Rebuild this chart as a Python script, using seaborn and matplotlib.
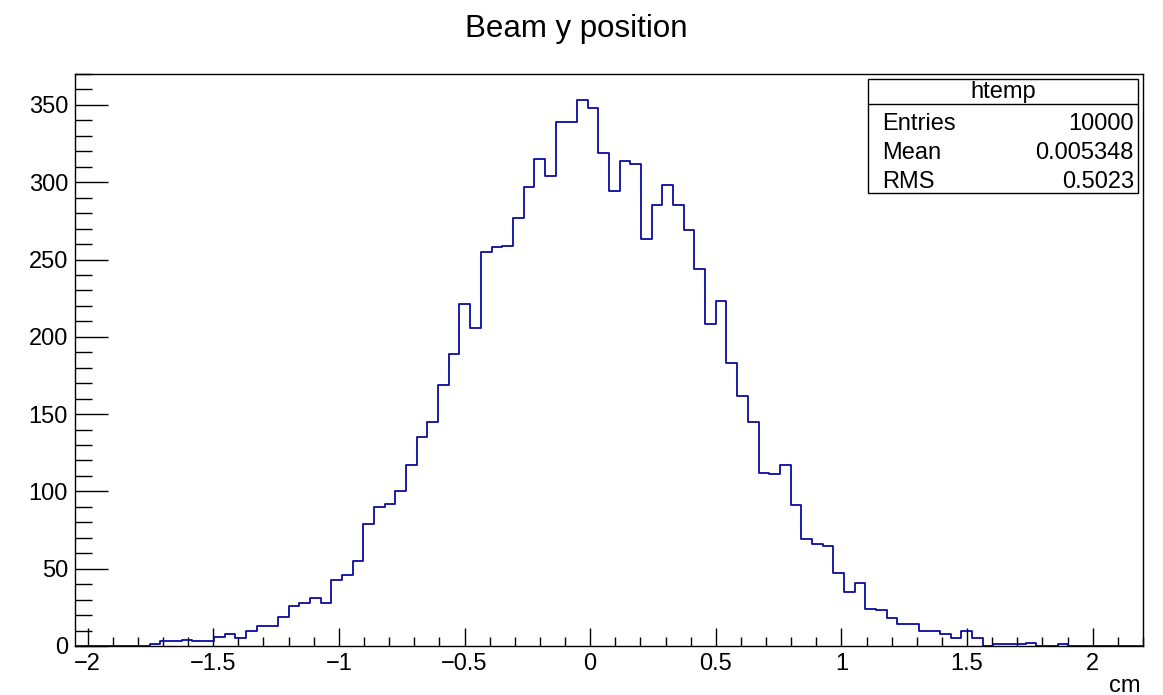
import numpy as np
import pandas as pd
import matplotlib
matplotlib.use("Agg")
import matplotlib.pyplot as plt
import seaborn as sns
from matplotlib.ticker import MultipleLocator, FuncFormatter
from matplotlib.patches import Rectangle
from matplotlib.lines import Line2D

# ---- data -------------------------------------------------------------
x_min, x_max, n_bins = -2.05, 2.2, 100
counts = [0, 0, 0, 0, 0, 0, 0,
          1, 3, 3, 4, 3, 3, 6, 8, 5, 10, 13, 13, 19, 26, 28, 31, 28, 43, 46, 55,
          79, 90, 92, 100, 117, 135, 145, 169, 189, 221, 206,
          255, 258, 259, 277, 297, 315, 304, 339, 339, 353, 348,
          319, 294, 314, 312, 263, 285, 298, 285, 269, 244, 208, 223,
          183, 162, 145, 112, 111, 117, 91, 69, 66, 65, 47, 35, 41,
          24, 23, 18, 14, 14, 10, 10, 8, 5, 10, 5, 0, 1, 1, 1, 2, 0, 0, 1,
          0, 0, 0, 0, 0, 0, 0]
title = "Beam y position"
x_label = "cm"
stats_title = "htemp"
stats_names = ["Entries", "Mean", "RMS"]
stats_values = ["10000", "0.005348", "0.5023"]
y_max = 370.0

edges = np.linspace(x_min, x_max, n_bins + 1)
centers = 0.5 * (edges[:-1] + edges[1:])
df = pd.DataFrame({"y": centers, "n": counts})

# ---- figure -----------------------------------------------------------
sns.set_style("ticks")
plt.rcParams['font.family'] = ['Liberation Sans', 'DejaVu Sans']
plt.rcParams['axes.unicode_minus'] = True
plt.rcParams['text.color'] = 'black'
plt.rcParams['xtick.color'] = 'black'
plt.rcParams['ytick.color'] = 'black'
plt.rcParams['xtick.labelcolor'] = 'black'
plt.rcParams['ytick.labelcolor'] = 'black'

W, H = 1163, 695
fig = plt.figure(figsize=(W / 100, H / 100), dpi=100)
L, R, T, B = 75, 1143, 74, 646
ax = fig.add_axes([L / W, 1 - B / H, (R - L) / W, (B - T) / H])

sns.histplot(data=df, x="y", weights="n", bins=n_bins, binrange=(x_min, x_max),
             element="step", fill=False, color="#0a0aa0", linewidth=1.3, ax=ax)

ax.set_xlim(x_min, x_max)
ax.set_ylim(0, y_max)
ax.set_xlabel("")
ax.set_ylabel("")

ax.xaxis.set_major_locator(MultipleLocator(0.5))
ax.xaxis.set_minor_locator(MultipleLocator(0.1))
ax.yaxis.set_major_locator(MultipleLocator(50))
ax.yaxis.set_minor_locator(MultipleLocator(10))

def fmt(v, pos):
    s = "%g" % round(v, 6)
    return s.replace("-", "\u2212")

ax.xaxis.set_major_formatter(FuncFormatter(fmt))
ax.yaxis.set_major_formatter(FuncFormatter(fmt))

for sp in ax.spines.values():
    sp.set_visible(True)
    sp.set_linewidth(1.0)
    sp.set_color("black")

ax.tick_params(axis="x", which="major", direction="in", length=12.7, width=1.0,
               labelsize=17, pad=5, top=False, colors="black")
ax.tick_params(axis="x", which="minor", direction="in", length=6.3, width=1.0, top=False)
ax.tick_params(axis="y", which="major", direction="in", length=23.5, width=1.0,
               labelsize=17, pad=5, right=False, colors="black")
ax.tick_params(axis="y", which="minor", direction="in", length=12.5, width=1.0, right=False)

# title and axis label
fig.text(576 / W, 1 - 29 / H, title, ha="center", va="center", fontsize=22.5, color="black")
fig.text(1141 / W, 1 - 692 / H, x_label, ha="right", va="baseline", fontsize=17, color="black")

# stats box
bx0, bx1, by0, by1, bsep = 868, 1138, 79, 193, 104
fig.add_artist(Rectangle((bx0 / W, 1 - by1 / H), (bx1 - bx0) / W, (by1 - by0) / H,
                         transform=fig.transFigure, facecolor="white",
                         edgecolor="black", linewidth=1.0, zorder=5))
fig.add_artist(Line2D([bx0 / W, bx1 / W], [1 - bsep / H, 1 - bsep / H],
                      transform=fig.transFigure, color="black", linewidth=1.0, zorder=6))
fig.text((bx0 + bx1) / 2 / W, 1 - 92 / H, stats_title, ha="center", va="center",
         fontsize=17, zorder=7, color="black")
row_y = [124, 153, 182]
for name, val, yy in zip(stats_names, stats_values, row_y):
    fig.text(882 / W, 1 - yy / H, name, ha="left", va="center", fontsize=17, zorder=7, color="black")
    fig.text(1134 / W, 1 - yy / H, val, ha="right", va="center", fontsize=17, zorder=7, color="black")

fig.savefig("out.png", dpi=100, facecolor="white")
